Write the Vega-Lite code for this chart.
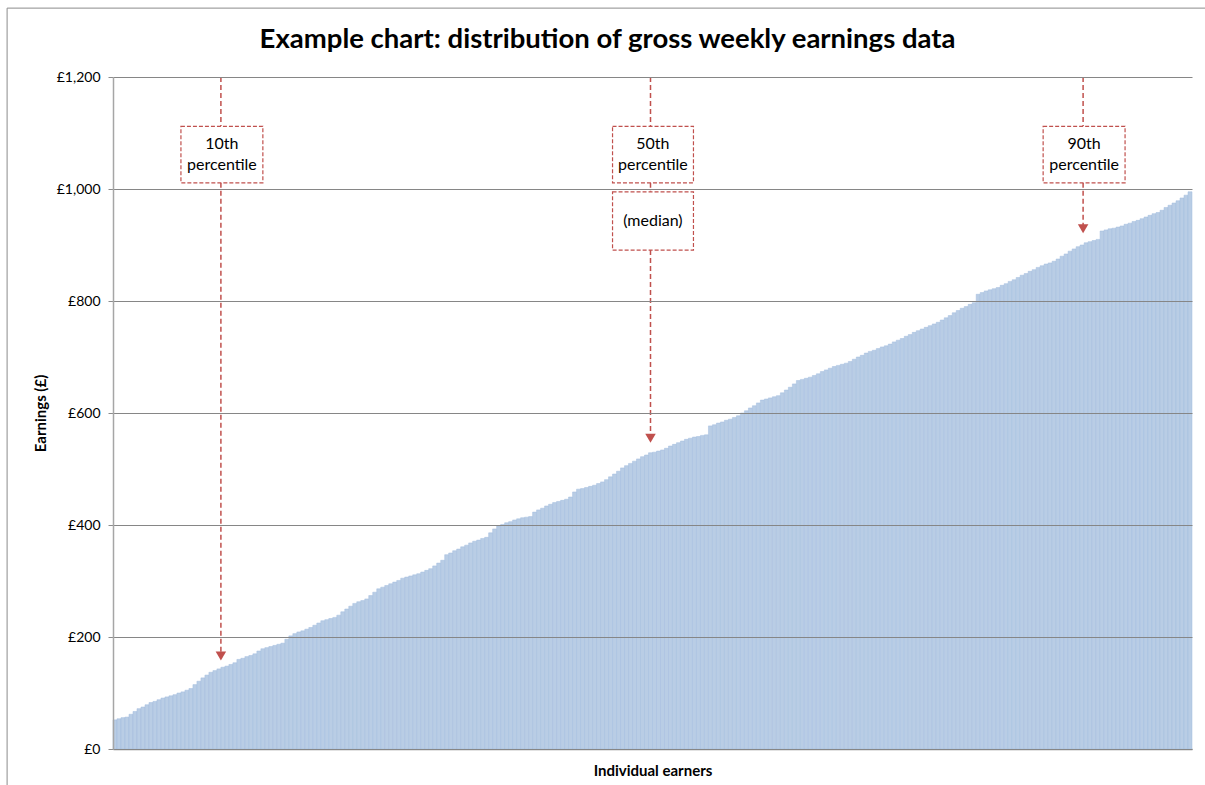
{
  "$schema": "https://vega.github.io/schema/vega-lite/v6.json",
  "autosize": "none",
  "width": 1079,
  "height": 672,
  "padding": {"left": 113, "top": 77, "right": 13, "bottom": 36},
  "background": "white",
  "config": {
    "view": {"stroke": null},
    "font": "Lato",
    "axis": {"labelFont": "Lato", "titleFont": "Lato"}
  },
  "title": {
    "text": "Example chart: distribution of gross weekly earnings data",
    "fontSize": 27.5,
    "fontWeight": "bold",
    "font": "Lato",
    "color": "#000000",
    "anchor": "middle",
    "frame": "bounds",
    "offset": -46
  },
  "datasets": {
    "earners": [
      {"i":0,"v":52},{"i":1,"v":54},{"i":2,"v":56},{"i":3,"v":57},{"i":4,"v":62},{"i":5,"v":67},{"i":6,"v":72},{"i":7,"v":75},{"i":8,"v":79},{"i":9,"v":83},
      {"i":10,"v":85},{"i":11,"v":88},{"i":12,"v":91},{"i":13,"v":93},{"i":14,"v":95},{"i":15,"v":97},{"i":16,"v":100},{"i":17,"v":102},{"i":18,"v":105},{"i":19,"v":108},
      {"i":20,"v":115},{"i":21,"v":121},{"i":22,"v":127},{"i":23,"v":132},{"i":24,"v":137},{"i":25,"v":140},{"i":26,"v":143},{"i":27,"v":146},{"i":28,"v":148},{"i":29,"v":151},
      {"i":30,"v":154},{"i":31,"v":160},{"i":32,"v":162},{"i":33,"v":165},{"i":34,"v":167},{"i":35,"v":170},{"i":36,"v":175},{"i":37,"v":179},{"i":38,"v":181},{"i":39,"v":183},
      {"i":40,"v":185},{"i":41,"v":187},{"i":42,"v":189},{"i":43,"v":196},{"i":44,"v":202},{"i":45,"v":206},{"i":46,"v":209},{"i":47,"v":211},{"i":48,"v":214},{"i":49,"v":217},
      {"i":50,"v":221},{"i":51,"v":225},{"i":52,"v":229},{"i":53,"v":231},{"i":54,"v":233},{"i":55,"v":235},{"i":56,"v":239},{"i":57,"v":245},{"i":58,"v":250},{"i":59,"v":255},
      {"i":60,"v":260},{"i":61,"v":263},{"i":62,"v":265},{"i":63,"v":268},{"i":64,"v":274},{"i":65,"v":280},{"i":66,"v":286},{"i":67,"v":289},{"i":68,"v":292},{"i":69,"v":295},
      {"i":70,"v":298},{"i":71,"v":301},{"i":72,"v":305},{"i":73,"v":307},{"i":74,"v":309},{"i":75,"v":311},{"i":76,"v":313},{"i":77,"v":316},{"i":78,"v":319},{"i":79,"v":322},
      {"i":80,"v":327},{"i":81,"v":332},{"i":82,"v":337},{"i":83,"v":347},{"i":84,"v":350},{"i":85,"v":354},{"i":86,"v":357},{"i":87,"v":361},{"i":88,"v":364},{"i":89,"v":368},
      {"i":90,"v":371},{"i":91,"v":373},{"i":92,"v":376},{"i":93,"v":378},{"i":94,"v":386},{"i":95,"v":393},{"i":96,"v":398},{"i":97,"v":401},{"i":98,"v":404},{"i":99,"v":406},
      {"i":100,"v":409},{"i":101,"v":411},{"i":102,"v":413},{"i":103,"v":414},{"i":104,"v":415},{"i":105,"v":423},{"i":106,"v":427},{"i":107,"v":430},{"i":108,"v":434},{"i":109,"v":437},
      {"i":110,"v":440},{"i":111,"v":442},{"i":112,"v":444},{"i":113,"v":446},{"i":114,"v":450},{"i":115,"v":459},{"i":116,"v":464},{"i":117,"v":465},{"i":118,"v":467},{"i":119,"v":469},
      {"i":120,"v":471},{"i":121,"v":474},{"i":122,"v":477},{"i":123,"v":481},{"i":124,"v":486},{"i":125,"v":491},{"i":126,"v":496},{"i":127,"v":502},{"i":128,"v":506},{"i":129,"v":510},
      {"i":130,"v":514},{"i":131,"v":518},{"i":132,"v":522},{"i":133,"v":525},{"i":134,"v":529},{"i":135,"v":530},{"i":136,"v":532},{"i":137,"v":534},{"i":138,"v":537},{"i":139,"v":541},
      {"i":140,"v":544},{"i":141,"v":547},{"i":142,"v":550},{"i":143,"v":553},{"i":144,"v":555},{"i":145,"v":557},{"i":146,"v":558},{"i":147,"v":560},{"i":148,"v":561},{"i":149,"v":577},
      {"i":150,"v":579},{"i":151,"v":582},{"i":152,"v":584},{"i":153,"v":587},{"i":154,"v":589},{"i":155,"v":592},{"i":156,"v":595},{"i":157,"v":600},{"i":158,"v":604},{"i":159,"v":609},
      {"i":160,"v":613},{"i":161,"v":618},{"i":162,"v":623},{"i":163,"v":625},{"i":164,"v":627},{"i":165,"v":629},{"i":166,"v":631},{"i":167,"v":636},{"i":168,"v":641},{"i":169,"v":646},
      {"i":170,"v":652},{"i":171,"v":658},{"i":172,"v":660},{"i":173,"v":662},{"i":174,"v":664},{"i":175,"v":667},{"i":176,"v":670},{"i":177,"v":674},{"i":178,"v":677},{"i":179,"v":680},
      {"i":180,"v":683},{"i":181,"v":685},{"i":182,"v":687},{"i":183,"v":689},{"i":184,"v":692},{"i":185,"v":696},{"i":186,"v":700},{"i":187,"v":703},{"i":188,"v":707},{"i":189,"v":710},
      {"i":190,"v":712},{"i":191,"v":715},{"i":192,"v":718},{"i":193,"v":720},{"i":194,"v":723},{"i":195,"v":727},{"i":196,"v":730},{"i":197,"v":733},{"i":198,"v":737},{"i":199,"v":740},
      {"i":200,"v":744},{"i":201,"v":747},{"i":202,"v":750},{"i":203,"v":753},{"i":204,"v":756},{"i":205,"v":759},{"i":206,"v":762},{"i":207,"v":766},{"i":208,"v":770},{"i":209,"v":774},
      {"i":210,"v":779},{"i":211,"v":783},{"i":212,"v":787},{"i":213,"v":790},{"i":214,"v":794},{"i":215,"v":797},{"i":216,"v":812},{"i":217,"v":815},{"i":218,"v":818},{"i":219,"v":820},
      {"i":220,"v":822},{"i":221,"v":824},{"i":222,"v":828},{"i":223,"v":831},{"i":224,"v":835},{"i":225,"v":838},{"i":226,"v":842},{"i":227,"v":846},{"i":228,"v":849},{"i":229,"v":853},
      {"i":230,"v":856},{"i":231,"v":860},{"i":232,"v":863},{"i":233,"v":866},{"i":234,"v":868},{"i":235,"v":871},{"i":236,"v":875},{"i":237,"v":880},{"i":238,"v":884},{"i":239,"v":889},
      {"i":240,"v":893},{"i":241,"v":897},{"i":242,"v":900},{"i":243,"v":904},{"i":244,"v":906},{"i":245,"v":908},{"i":246,"v":910},{"i":247,"v":925},{"i":248,"v":927},{"i":249,"v":929},
      {"i":250,"v":930},{"i":251,"v":932},{"i":252,"v":934},{"i":253,"v":937},{"i":254,"v":939},{"i":255,"v":942},{"i":256,"v":944},{"i":257,"v":947},{"i":258,"v":950},{"i":259,"v":953},
      {"i":260,"v":956},{"i":261,"v":958},{"i":262,"v":962},{"i":263,"v":967},{"i":264,"v":971},{"i":265,"v":975},{"i":266,"v":979},{"i":267,"v":984},{"i":268,"v":989},{"i":269,"v":995}
    ],
    "rules": [
      {"x":27,"y":1200,"y2":1112},{"x":27,"y":1011,"y2":166},
      {"x":134.5,"y":1200,"y2":1112},{"x":134.5,"y":1011,"y2":995},{"x":134.5,"y":891,"y2":555},
      {"x":242.75,"y":1200,"y2":1112},{"x":242.75,"y":1011,"y2":929}
    ],
    "boxes": [
      {"x":17,"x2":37.5,"y":1112,"y2":1011,"cx":27.25,"ty":1080,"label":"10th\npercentile"},
      {"x":125,"x2":145.25,"y":1112,"y2":1011,"cx":135.1,"ty":1080,"label":"50th\npercentile"},
      {"x":125,"x2":145.25,"y":995,"y2":891,"cx":135.1,"ty":943,"label":"(median)"},
      {"x":232.75,"x2":253.25,"y":1112,"y2":1011,"cx":243,"ty":1080,"label":"90th\npercentile"}
    ],
    "arrows": [
      {"x":27,"y":166},{"x":134.5,"y":555},{"x":242.75,"y":929}
    ],
    "frame": [
      {"x":-26.5,"x2":274,"y":1323,"y2":-70}
    ]
  },
  "resolve": {"scale": {"x": "independent"}},
  "layer": [
    {
      "data": {"name": "earners"},
      "mark": {"type": "bar", "fill": "#b9cde5", "stroke": "#a3bddf", "strokeWidth": 0.5},
      "encoding": {
        "x": {
          "field": "i", "type": "ordinal",
          "scale": {"paddingInner": 0, "paddingOuter": 0},
          "axis": {
            "labels": false, "ticks": false, "domain": true,
            "domainColor": "#8c8c8c", "domainWidth": 1.5,
            "title": "Individual earners", "titleFontSize": 15, "titleFontWeight": "bold",
            "titleColor": "#000000", "titlePadding": 14
          }
        },
        "y": {
          "field": "v", "type": "quantitative",
          "scale": {"domain": [0, 1200], "nice": false, "zero": true},
          "axis": {
            "values": [0, 200, 400, 600, 800, 1000, 1200],
            "labelExpr": "'£' + format(datum.value, ',')",
            "labelFontSize": 14, "labelColor": "#000000", "labelPadding": 8,
            "tickSize": 5, "tickColor": "#8c8c8c",
            "domainColor": "#a6a6a6", "domainWidth": 1.5,
            "grid": true, "gridColor": "#868686", "gridWidth": 1,
            "zindex": 1,
            "title": "Earnings (£)", "titleFontSize": 15, "titleFontWeight": "bold",
            "titleColor": "#000000", "titlePadding": 8
          }
        }
      }
    },
    {
      "data": {"name": "frame"},
      "mark": {"type": "rect", "fillOpacity": 0, "stroke": "#8c8c8c", "strokeWidth": 1, "clip": false},
      "encoding": {
        "x": {"field": "x", "type": "quantitative", "scale": {"domain": [0, 270], "nice": false, "zero": false}, "axis": null},
        "x2": {"field": "x2"},
        "y": {"field": "y", "type": "quantitative"},
        "y2": {"field": "y2"}
      }
    },
    {
      "data": {"name": "rules"},
      "mark": {"type": "rule", "color": "#c0504d", "strokeWidth": 1.5, "strokeDash": [5, 3], "zindex": 2},
      "encoding": {
        "x": {"field": "x", "type": "quantitative", "scale": {"domain": [0, 270], "nice": false, "zero": false}, "axis": null},
        "y": {"field": "y", "type": "quantitative"},
        "y2": {"field": "y2"}
      }
    },
    {
      "data": {"name": "boxes"},
      "mark": {"type": "rect", "fill": "white", "stroke": "#c0504d", "strokeWidth": 1.2, "strokeDash": [4, 2]},
      "encoding": {
        "x": {"field": "x", "type": "quantitative", "scale": {"domain": [0, 270], "nice": false, "zero": false}, "axis": null},
        "x2": {"field": "x2"},
        "y": {"field": "y", "type": "quantitative"},
        "y2": {"field": "y2"}
      }
    },
    {
      "data": {"name": "boxes"},
      "mark": {"type": "text", "fontSize": 16, "font": "Lato", "color": "#000000", "align": "center", "baseline": "middle", "lineBreak": "\n", "lineHeight": 21},
      "encoding": {
        "x": {"field": "cx", "type": "quantitative", "scale": {"domain": [0, 270], "nice": false, "zero": false}, "axis": null},
        "y": {"field": "ty", "type": "quantitative"},
        "text": {"field": "label"}
      }
    },
    {
      "data": {"name": "arrows"},
      "mark": {"type": "point", "shape": "triangle-down", "filled": true, "color": "#c0504d", "size": 110, "opacity": 1},
      "encoding": {
        "x": {"field": "x", "type": "quantitative", "scale": {"domain": [0, 270], "nice": false, "zero": false}, "axis": null},
        "y": {"field": "y", "type": "quantitative"}
      }
    }
  ]
}
